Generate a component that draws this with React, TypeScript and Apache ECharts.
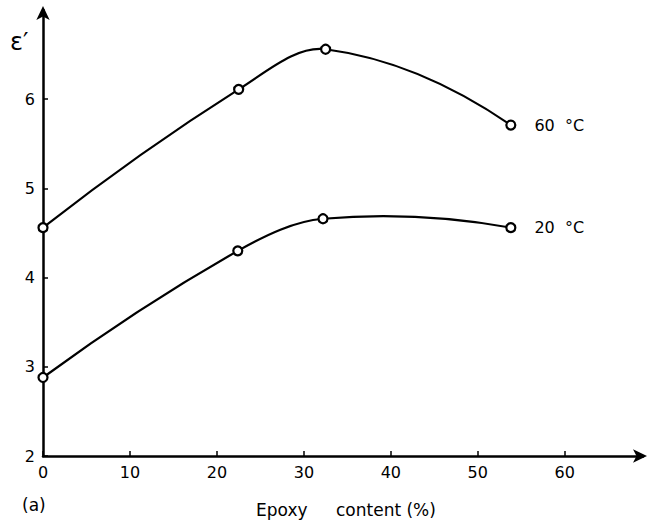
import React, { useEffect, useRef } from "react";
import * as echarts from "echarts";

const epoxy60 = [0, 22.5, 32.5, 53.8];
const eps60 = [4.56, 6.11, 6.56, 5.71];
const epoxy20 = [0, 22.4, 32.2, 53.8];
const eps20 = [2.88, 4.3, 4.66, 4.56];
const xTicks = [0, 10, 20, 30, 40, 50, 60];
const yTicks = [2, 3, 4, 5, 6];
const seriesNames = ["60  °C", "20  °C"];

// cubic Hermite spline in pixel space, parameterised by x
function splinePath(pts: number[][]): string {
  const n = pts.length;
  const sec: number[] = [];
  for (let i = 0; i < n - 1; i++) sec.push((pts[i + 1][1] - pts[i][1]) / (pts[i + 1][0] - pts[i][0]));
  const m: number[] = new Array(n);
  for (let i = 1; i < n - 1; i++) m[i] = (pts[i + 1][1] - pts[i - 1][1]) / (pts[i + 1][0] - pts[i - 1][0]);
  m[0] = n > 2 ? 2 * sec[0] - m[1] : sec[0];
  m[n - 1] = n > 2 ? 2 * sec[n - 2] - m[n - 2] : sec[n - 2];
  let d = `M${pts[0][0]},${pts[0][1]}`;
  for (let i = 0; i < n - 1; i++) {
    const h = pts[i + 1][0] - pts[i][0];
    const c1x = pts[i][0] + h / 3;
    const c1y = pts[i][1] + (m[i] * h) / 3;
    const c2x = pts[i + 1][0] - h / 3;
    const c2y = pts[i + 1][1] - (m[i + 1] * h) / 3;
    d += ` C${c1x},${c1y} ${c2x},${c2y} ${pts[i + 1][0]},${pts[i + 1][1]}`;
  }
  return d;
}

export default function App() {
  const ref = useRef<HTMLDivElement>(null);
  useEffect(() => {
    const chart = echarts.init(ref.current!, undefined, { renderer: "svg" });
    const font = "DejaVu Sans";
    const curve = (xs: number[], ys: number[]) => {
      const data = xs.map((x, i) => [x, ys[i]]);
      return {
        type: "custom",
        data,
        silent: true,
        z: 2,
        renderItem: (params: any, api: any) => {
          if (params.dataIndex !== 0) return null;
          const pts = data.map((p) => api.coord(p));
          return {
            type: "path",
            shape: { pathData: splinePath(pts) },
            style: { fill: "none", stroke: "#000", lineWidth: 2.2 },
          };
        },
      };
    };
    const marks = (xs: number[], ys: number[], name: string) => ({
      type: "scatter",
      name,
      z: 3,
      data: xs.map((x, i) => [x, ys[i]]),
      symbol: "circle",
      symbolSize: 9,
      itemStyle: { color: "#fff", borderColor: "#000", borderWidth: 2.2, opacity: 1 },
      label: {
        show: true,
        position: "right",
        distance: 18,
        formatter: (p: any) => (p.dataIndex === xs.length - 1 ? name : ""),
        color: "#000",
        opacity: 1,
        fontFamily: font,
        fontSize: 16,
      },
    });
    chart.setOption({
      animation: false,
      backgroundColor: "#fff",
      grid: { left: 43, right: 6, top: 10, bottom: 66 },
      xAxis: {
        type: "value",
        min: 0,
        max: 69,
        axisLine: {
          lineStyle: { color: "#000", width: 2.5 },
          symbol: ["none", "arrow"],
          symbolSize: [10, 14],
          symbolOffset: [0, 4],
        },
        axisTick: { show: true, inside: true, length: 5, customValues: xTicks, lineStyle: { color: "#000", width: 1.5 } },
        axisLabel: { customValues: xTicks, color: "#000", fontFamily: font, fontSize: 16, margin: 8 },
        splitLine: { show: false },
      },
      yAxis: {
        type: "value",
        min: 2,
        max: 7,
        axisLine: {
          show: true,
          lineStyle: { color: "#000", width: 2.5 },
          symbol: ["none", "arrow"],
          symbolSize: [10, 14],
          symbolOffset: [0, 4],
        },
        axisTick: { show: true, inside: true, length: 5, customValues: yTicks, lineStyle: { color: "#000", width: 1.5 } },
        axisLabel: { customValues: yTicks, color: "#000", fontFamily: font, fontSize: 16, margin: 8 },
        splitLine: { show: false },
      },
      series: [
        curve(epoxy60, eps60),
        curve(epoxy20, eps20),
        marks(epoxy60, eps60, seriesNames[0]),
        marks(epoxy20, eps20, seriesNames[1]),
      ],
      graphic: [
        { type: "text", left: 10, top: 30, style: { text: "ε′", fontFamily: font, fontSize: 24, fill: "#000" } },
        { type: "text", left: 22, top: 496, style: { text: "(a)", fontFamily: font, fontSize: 17, fill: "#000" } },
        { type: "text", left: 256, top: 501, style: { text: "Epoxy", fontFamily: font, fontSize: 17, fill: "#000" } },
        { type: "text", left: 336, top: 501, style: { text: "content (%)", fontFamily: font, fontSize: 17, fill: "#000" } },
      ],
    });
    return () => chart.dispose();
  }, []);
  return <div ref={ref} style={{ position: "fixed", left: 0, top: 0, width: 649, height: 522 }} />;
}
